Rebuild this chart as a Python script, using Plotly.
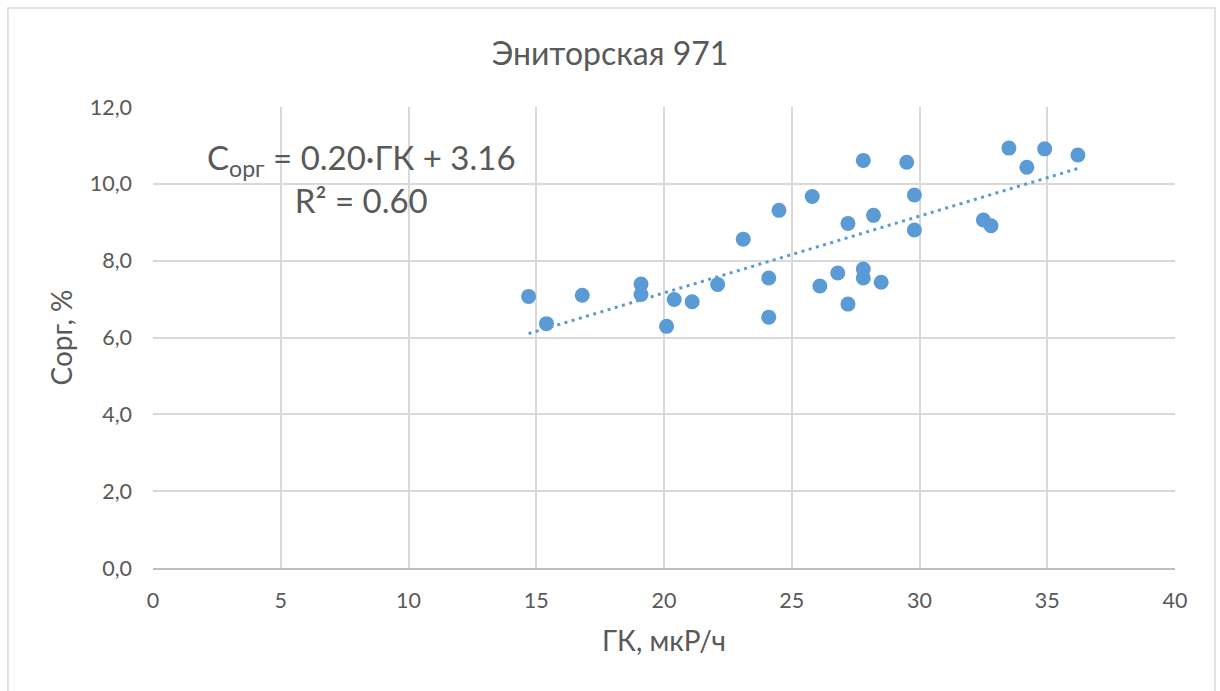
import plotly.graph_objects as go

# Data
gk = [14.7, 15.4, 16.8, 19.1, 19.1, 20.1, 20.4, 21.1, 22.1, 23.1, 24.1, 24.1,
      24.5, 25.8, 26.1, 26.8, 27.2, 27.2, 27.8, 29.5, 29.8, 28.2, 29.8, 32.5,
      32.8, 33.5, 34.9, 34.2, 36.2, 27.8, 27.8, 28.5]
corg = [7.07, 6.36, 7.10, 7.39, 7.12, 6.29, 6.99, 6.93, 7.38, 8.56, 7.55, 6.53,
        9.31, 9.67, 7.34, 7.68, 8.97, 6.87, 10.61, 10.56, 9.71, 9.18, 8.80, 9.06,
        8.91, 10.93, 10.91, 10.43, 10.75, 7.78, 7.55, 7.44]

slope = 0.20
intercept = 3.16
r2 = 0.60

x_ticks = [0, 5, 10, 15, 20, 25, 30, 35, 40]
y_ticks = [0, 2, 4, 6, 8, 10, 12]
y_tick_labels = ["0,0", "2,0", "4,0", "6,0", "8,0", "10,0", "12,0"]

title_text = "Эниторская 971"
x_title = "ГК, мкР/ч"
y_title = "Сорг, %"

blue = "#5B9BD5"
grey_text = "#595959"
grid = "#D9D9D9"
FONT = "Lato"

trend_x = [min(gk), max(gk)]
trend_y = [slope * v + intercept for v in trend_x]

fig = go.Figure()
fig.add_trace(go.Scatter(
    x=trend_x, y=trend_y, mode="lines",
    line=dict(color=blue, width=3, dash="3px,4.5px"),
    hoverinfo="skip", showlegend=False))
fig.add_trace(go.Scatter(
    x=gk, y=corg, mode="markers",
    marker=dict(color=blue, size=15, line=dict(width=0)),
    showlegend=False))

fig.add_annotation(
    x=8.15, y=10.15, xref="x", yref="y",
    text=f"C<sub>орг</sub> = {slope:.2f}·ГК + {intercept:.2f}<br>R² = {r2:.2f}",
    showarrow=False, align="center", xanchor="center", yanchor="middle",
    font=dict(family=FONT, size=33, color=grey_text))

# outer chart border
fig.add_shape(type="rect", xref="paper", yref="paper",
              x0=-0.1419, x1=1.0391, y0=-0.30, y1=1.2148,
              line=dict(color="#D9D9D9", width=1.5), layer="below")

fig.update_layout(
    width=1220, height=691,
    margin=dict(l=153, r=45, t=107, b=123),
    paper_bgcolor="white", plot_bgcolor="white",
    font=dict(family=FONT, color=grey_text),
    title=dict(text=title_text, x=0.5, xref="container", xanchor="center",
               y=1 - 54 / 691, yref="container", yanchor="middle",
               font=dict(family=FONT, size=32, color=grey_text)),
    xaxis=dict(range=[0, 40], tickvals=x_ticks, showgrid=True, gridcolor=grid,
               gridwidth=1.5, zeroline=False, showline=True, linecolor="#BFBFBF",
               linewidth=1.5, ticks="", ticklabelstandoff=12,
               tickfont=dict(family=FONT, size=21.5, color=grey_text),
               title=dict(text=x_title, standoff=20,
                          font=dict(family=FONT, size=28, color=grey_text))),
    yaxis=dict(range=[0, 12], tickvals=y_ticks, ticktext=y_tick_labels,
               showgrid=True, gridcolor=grid, gridwidth=1.5, zeroline=False,
               showline=False, ticks="", ticklabelstandoff=20,
               tickfont=dict(family=FONT, size=21.5, color=grey_text),
               title=dict(text=y_title, standoff=8,
                          font=dict(family=FONT, size=28, color=grey_text))),
)

fig.write_html("out.html")
